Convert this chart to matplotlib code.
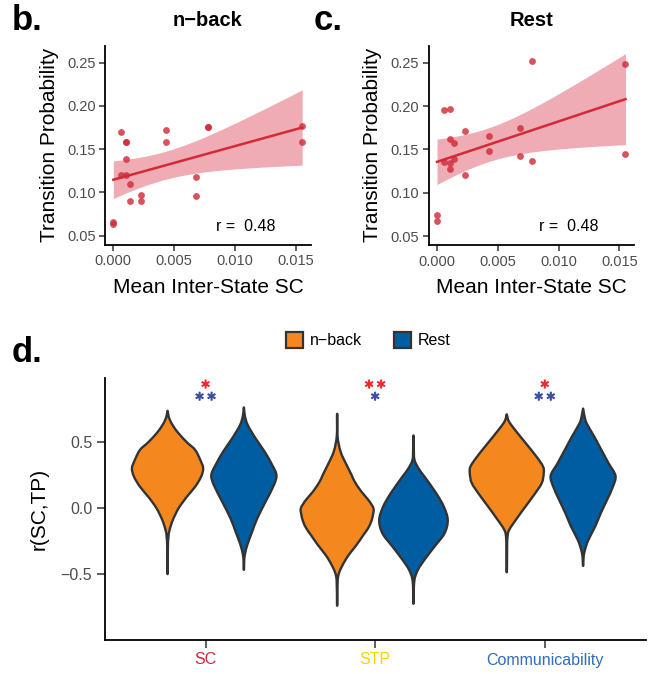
import numpy as np
import matplotlib
matplotlib.use("Agg")
import matplotlib.pyplot as plt
from matplotlib.path import Path
from matplotlib.patches import PathPatch, Patch
import matplotlib.patheffects as pe

plt.rcParams['font.family'] = ['Liberation Sans', 'DejaVu Sans']
plt.rcParams['axes.unicode_minus'] = True

# ---------------- data ----------------
# panel b (n-back)
nback_sc = [0.0000, 0.0000, 0.0006, 0.0010, 0.0010, 0.0010, 0.0006, 0.0010, 0.0014, 0.0014,
            0.0023, 0.0023, 0.0043, 0.0043, 0.0068, 0.0068, 0.0078, 0.0078, 0.0155, 0.0155]
nback_tp = [0.0655, 0.0635, 0.1695, 0.1585, 0.1580, 0.1390, 0.1205, 0.1200, 0.1100, 0.0900,
            0.0970, 0.0895, 0.1720, 0.1580, 0.1180, 0.0953, 0.1755, 0.1750, 0.1770, 0.1580]
# panel c (Rest)
rest_sc = [0.0000, 0.0000, 0.0006, 0.0011, 0.0023, 0.0011, 0.0014, 0.0006, 0.0011, 0.0014,
           0.0011, 0.0023, 0.0043, 0.0043, 0.0068, 0.0068, 0.0078, 0.0078, 0.0155, 0.0155]
rest_tp = [0.0740, 0.0680, 0.1955, 0.1970, 0.1710, 0.1620, 0.1570, 0.1350, 0.1340, 0.1390,
           0.1275, 0.1210, 0.1655, 0.1480, 0.1750, 0.1425, 0.2520, 0.1370, 0.2480, 0.1450]
r_label = "r =  0.48"

# panel d: violin profiles (value, half-width)
measures = ["SC", "STP", "Communicability"]
conditions = ["n\u2212back", "Rest"]

sc_nback_y = [0.735, 0.70, 0.669, 0.62, 0.568, 0.50, 0.442, 0.366, 0.303, 0.24, 0.164, 0.088, 0.0,
              -0.089, -0.164, -0.22, -0.30, -0.48]
sc_nback_w = [0.001, 0.006, 0.014, 0.035, 0.065, 0.114, 0.163, 0.193, 0.210, 0.198, 0.163, 0.114, 0.065,
              0.031, 0.012, 0.005, 0.002, 0.001]
sc_rest_y = [0.758, 0.70, 0.63, 0.53, 0.43, 0.328, 0.252, 0.176, 0.05, -0.076, -0.177, -0.278, -0.35,
             -0.40, -0.46]
sc_rest_w = [0.001, 0.006, 0.023, 0.069, 0.122, 0.167, 0.192, 0.177, 0.128, 0.079, 0.049, 0.020, 0.006,
             0.002, 0.001]
stp_nback_y = [0.70, 0.55, 0.43, 0.33, 0.25, 0.20, 0.126, 0.06, 0.0, -0.05, -0.10, -0.15, -0.20,
               -0.278, -0.34, -0.40, -0.48, -0.55, -0.72]
stp_nback_w = [0.001, 0.002, 0.020, 0.055, 0.086, 0.104, 0.143, 0.186, 0.214, 0.211, 0.201, 0.183, 0.156,
               0.114, 0.076, 0.045, 0.014, 0.003, 0.001]
stp_rest_y = [0.542, 0.45, 0.366, 0.30, 0.24, 0.114, 0.012, -0.089, -0.19, -0.29, -0.39, -0.467,
              -0.55, -0.707]
stp_rest_w = [0.001, 0.002, 0.006, 0.031, 0.065, 0.134, 0.179, 0.202, 0.183, 0.124, 0.065, 0.026,
              0.005, 0.001]
com_nback_y = [0.707, 0.66, 0.60, 0.49, 0.39, 0.316, 0.265, 0.19, 0.10, 0.013, -0.076, -0.164, -0.22,
               -0.30, -0.467]
com_nback_w = [0.001, 0.012, 0.045, 0.114, 0.176, 0.214, 0.218, 0.206, 0.160, 0.110, 0.060, 0.014, 0.004,
               0.002, 0.001]
com_rest_y = [0.75, 0.70, 0.644, 0.543, 0.442, 0.34, 0.247, 0.164, 0.063, -0.038, -0.139, -0.24,
              -0.316, -0.37, -0.43]
com_rest_w = [0.001, 0.008, 0.021, 0.066, 0.108, 0.151, 0.191, 0.176, 0.141, 0.104, 0.071, 0.031,
              0.011, 0.003, 0.001]

stars_red = [1, 2, 1]
stars_blue = [2, 1, 2]

# ---------------- style ----------------
W, H = 665, 674
fig = plt.figure(figsize=(W / 100, H / 100), dpi=100)

def fx(px):
    return px / W

def fy(py):
    return 1 - py / H

pt_color = '#D02C3A'
line_color = '#D42A35'
tick_grey = '#4D4D4D'
orange = '#F5871F'
blue = '#005DA1'
edge = '#333333'
star_red = '#EE2A2F'
star_blue = '#3B4FA6'


def style_axes(ax, labelsize=10.5, length=4):
    for s in ['top', 'right']:
        ax.spines[s].set_visible(False)
    for s in ['left', 'bottom']:
        ax.spines[s].set_linewidth(1.3)
        ax.spines[s].set_color('black')
    ax.tick_params(axis='both', which='major', length=length, width=1.1, color='#333333',
                   labelsize=labelsize, labelcolor=tick_grey, pad=3)


def scatter_panel(ax, x, y, title):
    x = np.asarray(x)
    y = np.asarray(y)
    n = len(x)
    b, a = np.polyfit(x, y, 1)
    xs = np.linspace(x.min(), x.max(), 100)
    yhat = a + b * xs
    resid = y - (a + b * x)
    s = np.sqrt(np.sum(resid ** 2) / (n - 2))
    sxx = np.sum((x - x.mean()) ** 2)
    tval = 2.101  # t(0.975, df=18)
    se = s * np.sqrt(1.0 / n + (xs - x.mean()) ** 2 / sxx)
    ax.fill_between(xs, yhat - tval * se, yhat + tval * se, color='#D7263D', alpha=0.38, lw=0, zorder=1)
    ax.scatter(x, y, s=24, color=pt_color, alpha=0.82, lw=0, zorder=2)
    ax.plot(xs, yhat, color=line_color, lw=1.8, zorder=3)
    ax.set_xlim(-0.00066, 0.0162)
    ax.set_ylim(0.0398, 0.2695)
    ax.set_xticks([0.0, 0.005, 0.010, 0.015])
    ax.set_xticklabels(["0.000", "0.005", "0.010", "0.015"])
    ax.set_yticks([0.05, 0.10, 0.15, 0.20, 0.25])
    ax.set_yticklabels(["0.05", "0.10", "0.15", "0.20", "0.25"])
    style_axes(ax)
    ax.set_xlabel("Mean Inter-State SC", fontsize=15, labelpad=7)
    ax.set_ylabel("Transition Probability", fontsize=15, labelpad=6)
    ax.set_title(title, fontsize=14.5, fontweight='bold', pad=14)
    ax.text(0.0084, 0.061, r_label, ha='left', va='center', fontsize=11.5, color='black')


axb = fig.add_axes([fx(105.3), fy(244.5), fx(310.7 - 105.3), (244.5 - 45.7) / H])
scatter_panel(axb, nback_sc, nback_tp, "n\u2212back")
axc = fig.add_axes([fx(429), fy(245), fx(634 - 429), (245 - 45.7) / H])
scatter_panel(axc, rest_sc, rest_tp, "Rest")

fig.text(fx(12), fy(4), "b.", fontsize=25, fontweight='bold', ha='left', va='top')
fig.text(fx(314), fy(4), "c.", fontsize=25, fontweight='bold', ha='left', va='top')
fig.text(fx(12), fy(336), "d.", fontsize=25, fontweight='bold', ha='left', va='top')

# ---------------- panel d ----------------
axd = fig.add_axes([fx(104.8), fy(640), fx(645.5 - 104.8), (640 - 378.3) / H])


def catmull_rom_closed(pts):
    pts = np.asarray(pts)
    n = len(pts)
    verts = [pts[0]]
    codes = [Path.MOVETO]
    for i in range(n):
        p0 = pts[(i - 1) % n]
        p1 = pts[i]
        p2 = pts[(i + 1) % n]
        p3 = pts[(i + 2) % n]
        c1 = p1 + (p2 - p0) / 6.0
        c2 = p2 - (p3 - p1) / 6.0
        verts += [c1, c2, p2]
        codes += [Path.CURVE4] * 3
    return Path(np.array(verts), codes)


def violin(ax, center, ys, ws, color):
    ys = np.asarray(ys)
    ws = np.asarray(ws)
    right = np.column_stack([center + ws, ys])
    left = np.column_stack([center - ws, ys])[::-1]
    pts = np.vstack([right, left])
    path = catmull_rom_closed(pts)
    ax.add_patch(PathPatch(path, facecolor=color, edgecolor=edge, lw=1.7, joinstyle='round', zorder=2))


def stars(ax, xc, yv, count, color):
    step = 0.0708
    for k in range(count):
        x = xc + (k - (count - 1) / 2.0) * step
        ax.text(x, yv, r'$\ast$', ha='center', va='center', fontsize=9.3, color=color,
                math_fontfamily='dejavusans',
                path_effects=[pe.withStroke(linewidth=0.7, foreground=color)])


profiles = [
    (sc_nback_y, sc_nback_w, sc_rest_y, sc_rest_w),
    (stp_nback_y, stp_nback_w, stp_rest_y, stp_rest_w),
    (com_nback_y, com_nback_w, com_rest_y, com_rest_w),
]
dodge = 0.225
for i, (yn, wn, yr, wr) in enumerate(profiles):
    xc = i + 1
    violin(axd, xc - dodge, yn, wn, orange)
    violin(axd, xc + dodge, yr, wr, blue)
    stars(axd, xc, 0.937, stars_red[i], star_red)
    stars(axd, xc, 0.845, stars_blue[i], star_blue)

axd.set_xlim(0.405, 3.593)
axd.set_ylim(-0.998, 0.985)
axd.set_xticks([1, 2, 3])
axd.set_xticklabels(measures)
axd.set_yticks([-0.5, 0.0, 0.5])
axd.set_yticklabels(["\u22120.5", "0.0", "0.5"])
style_axes(axd, labelsize=11.5, length=6)
for lab, col in zip(axd.get_xticklabels(), ['#D7263D', '#F2D40A', '#2F6DB8']):
    lab.set_color(col)
axd.set_ylabel("r(SC,TP)", fontsize=15, labelpad=9)

handles = [Patch(facecolor=orange, edgecolor=edge, lw=1.6, label=conditions[0]),
           Patch(facecolor=blue, edgecolor=edge, lw=1.6, label=conditions[1])]
fig.legend(handles=handles, loc='center', bbox_to_anchor=(fx(368), fy(340)), ncol=2, frameon=False,
           fontsize=11.5, handlelength=1.1, handleheight=1.2, handletextpad=0.4, columnspacing=2.0)

fig.savefig("out.png", dpi=100)
